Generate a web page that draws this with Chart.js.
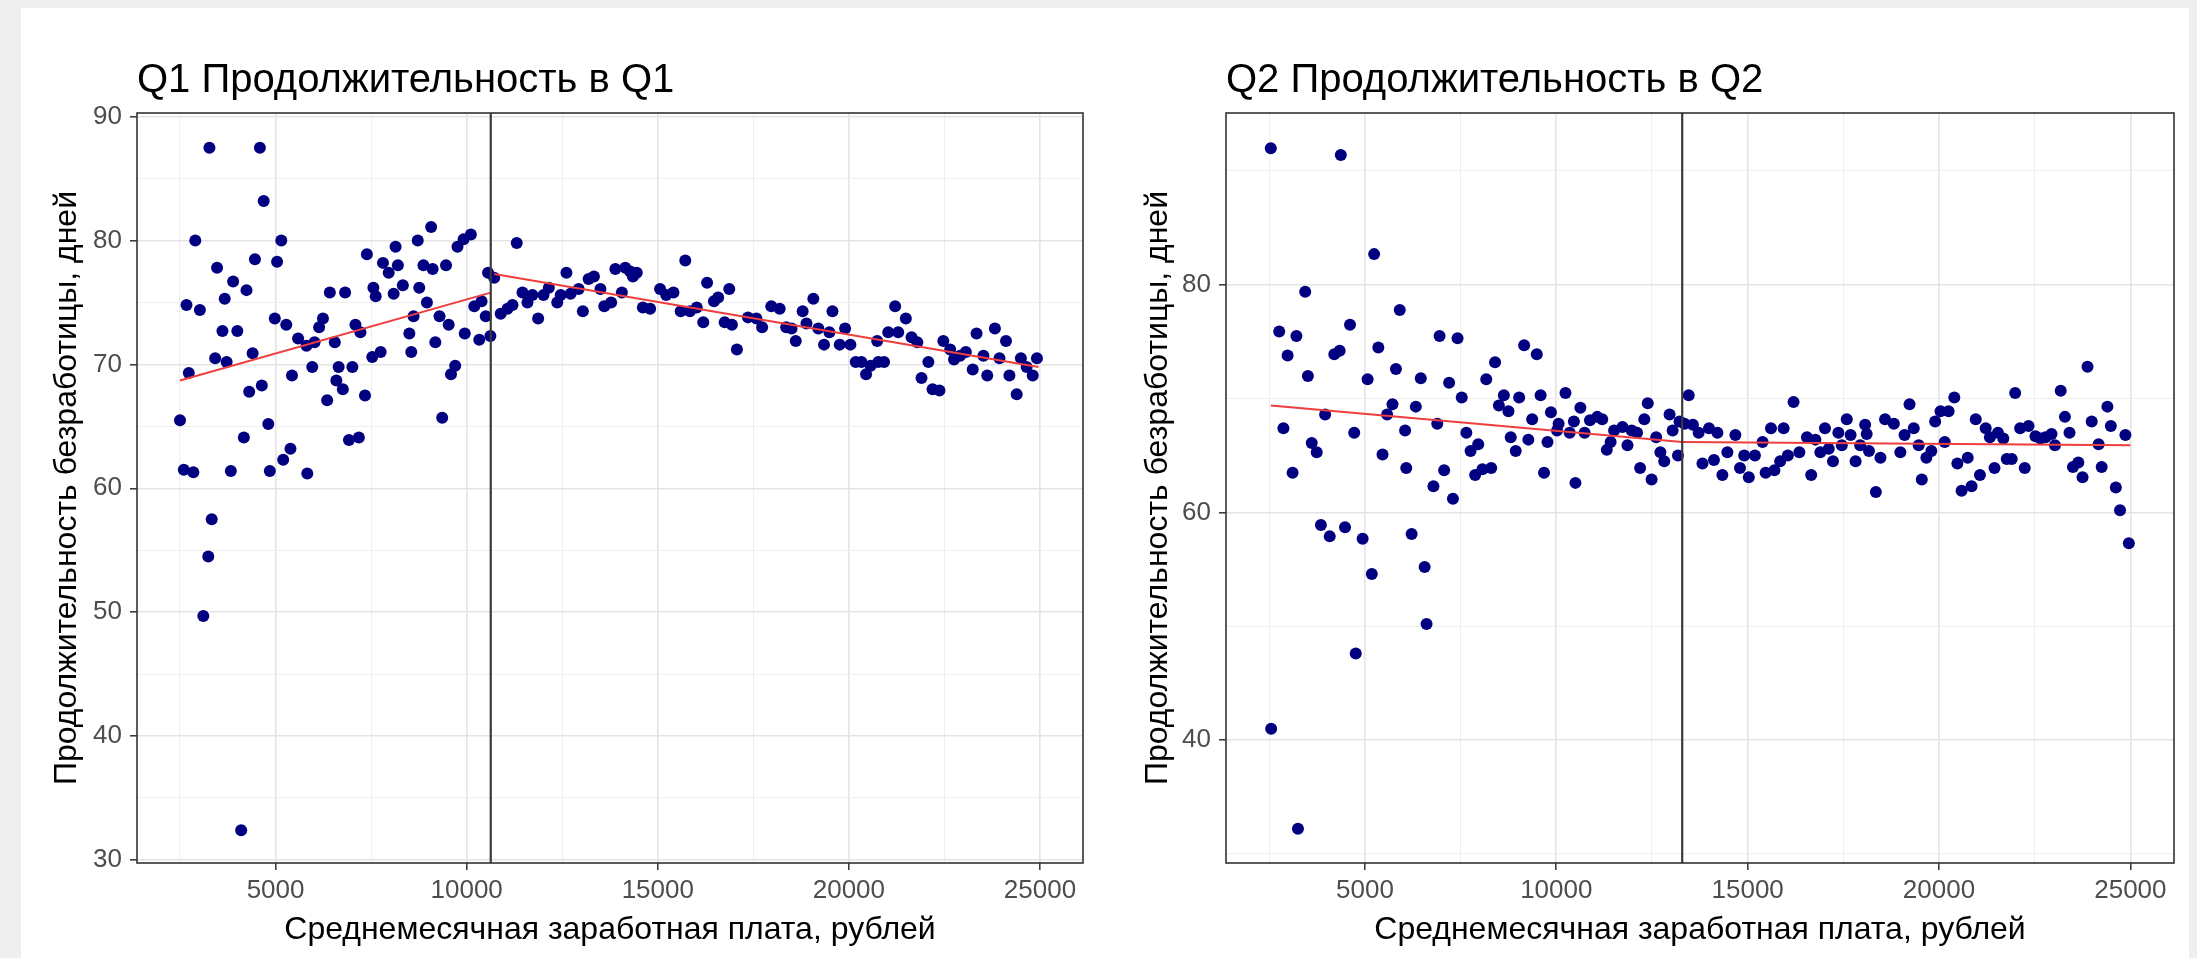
<!DOCTYPE html>
<html>
<head>
<meta charset="utf-8">
<script src="https://cdn.jsdelivr.net/npm/chart.js@4.4.1/dist/chart.umd.min.js"></script>
<style>
html,body{margin:0;padding:0;background:#efefef;width:2197px;height:958px;overflow:hidden}
#panel{position:absolute;left:21px;top:8px;width:2168px;height:950px;background:#ffffff}
canvas{position:absolute}
#c1{left:21px;top:8px;width:1089px;height:950px}
#c2{left:1110px;top:8px;width:1079px;height:950px}
</style>
</head>
<body>
<div id="panel"></div>
<canvas id="c1" width="1089" height="950"></canvas>
<canvas id="c2" width="1079" height="950"></canvas>
<script>
// ---------- texts ----------
const Q1_TITLE = 'Q1 Продолжительность в Q1';
const Q2_TITLE = 'Q2 Продолжительность в Q2';
const X_TITLE = 'Среднемесячная заработная плата, рублей';
const Y_TITLE = 'Продолжительность безработицы, дней';

// ---------- tick values ----------
const X_TICKS = [2500, 5000, 7500, 10000, 12500, 15000, 17500, 20000, 22500, 25000];
const X_MAJOR = [5000, 10000, 15000, 20000, 25000];
const Q1_Y_TICKS = [30, 35, 40, 45, 50, 55, 60, 65, 70, 75, 80, 85, 90];
const Q1_Y_MAJOR = [30, 40, 50, 60, 70, 80, 90];
const Q2_Y_TICKS = [30, 40, 50, 60, 70, 80, 90];
const Q2_Y_MAJOR = [40, 60, 80];

// ---------- axis ranges ----------
const Q1_X_RANGE = [1375, 26125];
const Q1_Y_RANGE = [29.75, 90.3];
const Q2_X_RANGE = [1370, 26140];
const Q2_Y_RANGE = [29.2, 95.1];

// ---------- Q1 points ----------
const Q1_WAGE = [3270,4590,4690,2900,5150,4460,5040,3470,3890,4240,3670,2670,3020,3610,4000,4980,5280,3420,3720,4400,2730,2500,4310,4640,5430,5590,5810,6020,6140,6240,6420,6820,5960,6550,6650,7010,6590,6760,6350,7340,7090,7220,7530,7750,6920,7180,7390,7620,7560,7810,7960,8200,8140,8090,8330,8720,9070,8870,9110,9460,8760,8960,8610,8500,8550,9180,9290,9530,9700,9590,9360,9760,9920,10110,9950,
4810,4170,5390,5200,2600,2850,3830,4850,5830,3330,3240,3110,4100,
10200,10390,10500,10330,10620,10560,10720,11310,10890,11070,11200,11460,11590,11720,11870,12010,12150,12370,12460,12610,12720,12930,13040,13190,13330,13500,13600,13780,13890,14150,14280,14450,14350,14060,14610,14800,15060,15220,15410,15720,15600,15840,16020,16190,16290,16470,16580,16870,16750,16940,17070,17360,17580,17730,17970,18190,18360,
18500,18610,18790,18890,19070,19200,19350,19490,19570,19760,19900,20040,20180,20330,20450,20570,20770,20920,20740,21030,21290,21210,21490,21640,21790,22080,21900,22190,22370,22470,22650,22750,22910,23060,23240,23340,23520,23620,23820,23940,24110,24200,24390,24500,24650,24810,24920];
const Q1_DAYS = [87.5,87.5,83.2,80.0,80.0,78.5,78.3,77.8,76.7,76.0,75.3,74.8,74.4,72.7,72.7,73.7,73.2,70.5,70.2,70.9,69.3,65.5,67.8,68.3,69.1,72.1,71.5,71.8,73.0,73.7,75.8,75.8,69.8,71.8,69.8,69.8,68.7,68.0,67.1,67.5,73.2,72.6,70.6,71.0,63.9,64.1,78.9,75.5,76.2,78.2,77.4,78.0,79.5,75.7,76.4,80.0,81.1,78.0,77.7,78.0,76.2,75.0,73.9,72.5,71.0,71.8,73.9,73.2,69.9,69.2,65.7,79.5,80.1,80.5,72.5,
65.2,64.1,63.2,62.3,61.5,61.3,61.4,61.4,61.2,57.5,54.5,49.7,32.4,
74.7,75.1,73.9,72.0,72.3,77.4,77.0,79.8,74.1,74.5,74.8,75.8,75.0,75.6,73.7,75.6,76.2,75.0,75.6,77.4,75.7,76.1,74.3,76.9,77.1,76.1,74.7,75.0,77.7,77.8,77.5,77.4,77.1,75.8,74.6,74.5,76.1,75.6,75.8,78.4,74.3,74.3,74.6,73.4,76.6,75.1,75.4,76.1,73.4,73.2,71.2,73.8,73.7,73.0,74.7,74.5,73.0,
72.9,71.9,74.3,73.3,75.3,72.9,71.6,72.6,74.3,71.6,72.9,71.6,70.2,70.2,69.2,69.9,70.2,70.2,71.9,72.6,72.6,74.7,73.7,72.2,71.8,70.2,68.9,68.0,67.9,71.9,71.2,70.4,70.7,71.0,69.6,72.5,70.7,69.1,72.9,70.5,71.9,69.1,67.6,70.5,69.8,69.1,70.5];

// ---------- Q2 points ----------
const Q2_WAGE = [2540,4370,5240,3440,5910,2760,3210,2980,4610,4200,4340,5350,3510,5810,5070,6460,6950,7420,7200,8170,8400,7530,3960,2870,4720,3610,3740,3110,5720,5580,6330,6050,5460,6080,6890,7070,6790,7300,7650,7760,7960,7880,8070,8300,8500,8630,8750,9030,8810,8940,9160,9490,9590,9370,9270,9770,9680,9860,
3850,4080,4480,4940,6220,5180,6560,4760,6610,2550,3250,
10240,10060,10020,10350,10460,10630,10740,10500,10880,11070,11200,11320,11420,11510,11730,11860,11970,12110,12300,12390,12610,12190,12490,12720,12820,12960,13040,13180,13220,13460,13350,13570,13720,13990,14210,13820,14120,14340,14470,14680,14800,14910,15030,15190,15390,15610,15940,15470,15700,15850,16050,16200,16350,16550,16770,16660,17020,16900,17120,17230,17370,17460,17590,17690,17940,17820,18070,18170,
18110,18470,18350,18590,18820,19100,19230,19340,18990,19470,19550,19670,19800,19900,20040,20250,20400,20150,20480,20750,20590,20850,21070,20960,21220,21330,21540,21680,21450,21770,21900,21990,22120,22340,22240,22520,22650,22780,22940,23030,23180,23290,23410,23500,23640,23750,23880,23990,24170,24250,24400,24490,24620,24730,24870,24960];
const Q2_DAYS = [92.0,91.4,82.7,79.4,77.8,75.9,75.5,73.8,76.5,73.9,74.2,74.5,72.0,72.6,71.7,71.8,75.5,75.3,71.4,71.7,73.2,70.1,68.6,67.4,67.0,66.1,65.3,63.5,69.5,68.6,69.3,67.2,65.1,63.9,67.8,63.7,62.3,61.2,67.0,65.4,66.0,63.3,63.8,63.9,69.4,70.3,68.9,70.1,66.6,65.4,74.7,73.9,70.3,68.2,66.4,66.2,63.5,68.8,
58.9,57.9,58.7,57.7,58.1,54.6,55.2,47.6,50.2,41.0,32.2,
70.5,67.8,67.2,67.0,68.0,69.2,67.0,62.6,68.1,68.4,68.2,65.5,66.2,67.2,67.5,65.9,67.2,67.0,68.2,69.6,66.6,63.9,62.9,65.3,64.5,68.6,67.2,65.0,68.0,70.3,67.8,67.7,67.0,67.4,67.0,64.3,64.6,63.3,65.3,66.8,63.9,65.0,63.1,65.0,66.2,67.4,67.4,63.5,63.7,64.5,65.0,69.7,65.3,66.6,66.4,63.3,67.4,65.3,65.6,64.5,67.0,65.9,68.2,66.8,65.9,64.5,67.7,65.4,
66.9,64.8,61.8,68.2,67.8,66.8,69.5,67.4,65.3,65.9,62.9,64.8,65.4,68.0,68.9,68.9,70.1,66.2,64.3,64.8,61.9,62.3,63.3,68.2,67.4,66.6,67.0,66.5,63.9,64.7,64.7,70.5,67.4,67.6,63.9,66.7,66.5,66.6,66.9,65.9,70.7,68.4,67.0,64.0,64.4,63.1,72.8,68.0,66.0,64.0,69.3,67.6,62.2,60.2,66.8,57.3];

// ---------- thresholds and fitted lines ----------
const Q1_THRESHOLD = 10630;
const Q2_THRESHOLD = 13290;
const Q1_FIT_A_WAGE = [2500, 10630];
const Q1_FIT_A_DAYS = [68.7, 75.8];
const Q1_FIT_B_WAGE = [10720, 24960];
const Q1_FIT_B_DAYS = [77.3, 69.8];
const Q2_FIT_A_WAGE = [2540, 13290];
const Q2_FIT_A_DAYS = [69.4, 66.2];
const Q2_FIT_B_WAGE = [13290, 25000];
const Q2_FIT_B_DAYS = [66.2, 65.9];

// ---------- helpers ----------
const pts = (xs, ys) => xs.map((x, i) => ({x: x, y: ys[i]}));
Chart.defaults.font.family = '"Liberation Sans", Arial, "DejaVu Sans", sans-serif';

const framePlugin = {
  id: 'frame',
  afterDatasetsDraw(chart) {
    const {ctx, chartArea: a} = chart;
    ctx.save();
    ctx.strokeStyle = '#333333';
    ctx.lineWidth = 1.6;
    ctx.strokeRect(a.left, a.top, a.right - a.left, a.bottom - a.top);
    ctx.restore();
  }
};

function gridOpts(major) {
  const isMajor = c => c.tick && major.includes(c.tick.value);
  return {
    color: c => isMajor(c) ? '#e4e4e4' : '#efefef',
    lineWidth: c => isMajor(c) ? 1.6 : 1.1,
    drawTicks: true,
    tickLength: 7,
    tickWidth: 1.5,
    tickColor: c => isMajor(c) ? '#333333' : 'rgba(0,0,0,0)'
  };
}

function makePanel(id, cfg) {
  const lineDs = (xs, ys, color, width, order) => ({
    type: 'line', data: pts(xs, ys), borderColor: color, borderWidth: width,
    pointRadius: 0, showLine: true, fill: false, order: order, tension: 0
  });
  new Chart(document.getElementById(id), {
    type: 'scatter',
    data: {
      datasets: [
        {data: pts(cfg.wage, cfg.days), backgroundColor: '#000080', borderWidth: 0, pointRadius: 6, pointHoverRadius: 6, order: 3},
        lineDs(cfg.fitAW, cfg.fitAD, 'rgb(238,62,62)', 2, 2),
        lineDs(cfg.fitBW, cfg.fitBD, 'rgb(238,62,62)', 2, 2),
        lineDs([cfg.threshold, cfg.threshold], [cfg.yRange[0], cfg.yRange[1]], '#3a3a3a', 2.2, 1)
      ]
    },
    options: {
      responsive: false,
      devicePixelRatio: 1,
      animation: false,
      events: [],
      layout: {padding: {left: 0, right: cfg.padRight, top: 0, bottom: 0}},
      plugins: {
        legend: {display: false},
        tooltip: {enabled: false},
        title: {
          display: true, text: cfg.title, align: 'start', fullSize: false,
          color: '#000000', font: {size: 40, weight: 'normal'},
          padding: {top: 49, bottom: 8}
        }
      },
      scales: {
        x: {
          type: 'linear', min: cfg.xRange[0], max: cfg.xRange[1],
          afterBuildTicks: s => { s.ticks = X_TICKS.map(v => ({value: v})); },
          afterFit: s => { s.height = 95; },
          grid: gridOpts(X_MAJOR),
          border: {display: false},
          ticks: {
            autoSkip: false, maxRotation: 0, color: '#4d4d4d', font: {size: 26}, padding: 5,
            callback: v => X_MAJOR.includes(v) ? String(v) : ''
          },
          title: {display: true, text: X_TITLE, color: '#000000', font: {size: 32}, padding: {top: 0, bottom: 9}}
        },
        y: {
          type: 'linear', min: cfg.yRange[0], max: cfg.yRange[1],
          afterBuildTicks: s => { s.ticks = cfg.yTicks.map(v => ({value: v})); },
          afterFit: s => { s.width = 116; },
          grid: gridOpts(cfg.yMajor),
          border: {display: false},
          ticks: {
            autoSkip: false, color: '#4d4d4d', font: {size: 26}, padding: 8,
            callback: v => cfg.yMajor.includes(v) ? String(v) : ''
          },
          title: {display: true, text: Y_TITLE, color: '#000000', font: {size: 32}, padding: {top: cfg.yTitlePad, bottom: 0}}
        }
      }
    },
    plugins: [framePlugin]
  });
}

makePanel('c1', {
  title: Q1_TITLE, wage: Q1_WAGE, days: Q1_DAYS,
  fitAW: Q1_FIT_A_WAGE, fitAD: Q1_FIT_A_DAYS, fitBW: Q1_FIT_B_WAGE, fitBD: Q1_FIT_B_DAYS,
  threshold: Q1_THRESHOLD, xRange: Q1_X_RANGE, yRange: Q1_Y_RANGE,
  yTicks: Q1_Y_TICKS, yMajor: Q1_Y_MAJOR, padRight: 27, yTitlePad: 27
});
makePanel('c2', {
  title: Q2_TITLE, wage: Q2_WAGE, days: Q2_DAYS,
  fitAW: Q2_FIT_A_WAGE, fitAD: Q2_FIT_A_DAYS, fitBW: Q2_FIT_B_WAGE, fitBD: Q2_FIT_B_DAYS,
  threshold: Q2_THRESHOLD, xRange: Q2_X_RANGE, yRange: Q2_Y_RANGE,
  yTicks: Q2_Y_TICKS, yMajor: Q2_Y_MAJOR, padRight: 15, yTitlePad: 29
});
</script>
</body>
</html>
